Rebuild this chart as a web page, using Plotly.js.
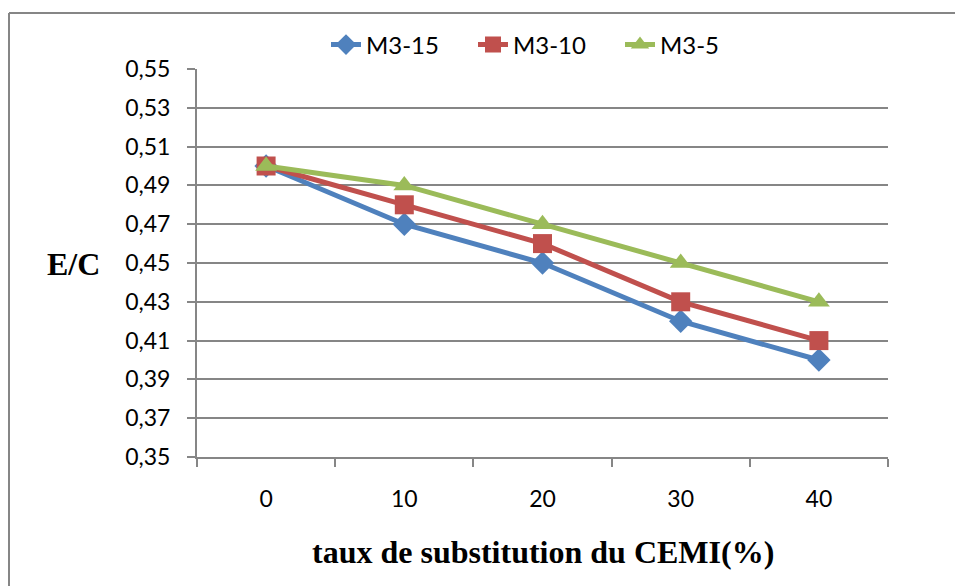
<!DOCTYPE html>
<html>
<head>
<meta charset="utf-8">
<script src="https://cdn.plot.ly/plotly-3.0.1.min.js"></script>
<style>html,body{margin:0;padding:0;background:#fff;}#chart{width:955px;height:586px;}</style>
</head>
<body>
<div id="chart"></div>
<script>
const categories = ["0", "10", "20", "30", "40"];
const seriesNames = ["M3-15", "M3-10", "M3-5"];
const m3_15 = [0.50, 0.47, 0.45, 0.42, 0.40];
const m3_10 = [0.50, 0.48, 0.46, 0.43, 0.41];
const m3_5  = [0.50, 0.49, 0.47, 0.45, 0.43];
const yTicks = [0.35, 0.37, 0.39, 0.41, 0.43, 0.45, 0.47, 0.49, 0.51, 0.53, 0.55];

const colors = ["#4F81BD", "#C0504D", "#9BBB59"];
const symbols = ["diamond", "square", "triangle-up"];
const sizes = [18, 19, 19];
const values = [m3_15, m3_10, m3_5];

const traces = values.map((v, i) => ({
  x: categories, y: v, name: seriesNames[i], type: "scatter", mode: "lines+markers",
  line: {color: colors[i], width: 5},
  marker: {symbol: symbols[i], size: sizes[i], color: colors[i]}
}));

const grid = "#868686";
const tickFont = {family: "Lato, 'Open Sans', sans-serif", size: 23, color: "#000"};
const layout = {
  width: 955, height: 586,
  margin: {l: 197, r: 67, t: 69, b: 129},
  paper_bgcolor: "#fff", plot_bgcolor: "#fff",
  separators: ", ",
  showlegend: true,
  legend: {orientation: "h", x: (326 - 197) / 691, xanchor: "left", y: 1.062, yanchor: "middle",
    font: {family: "Lato, 'Open Sans', sans-serif", size: 24, color: "#000"}, entrywidth: 102, entrywidthmode: "pixels"},
  xaxis: {type: "category", range: [-0.5, 4.5], showgrid: false, zeroline: false,
    showline: true, linecolor: grid, linewidth: 2, ticks: "outside", ticklen: 8, tickcolor: grid, tickwidth: 2,
    tickson: "boundaries", ticklabelstandoff: 20, tickfont: tickFont},
  yaxis: {range: [0.35, 0.55], tickvals: yTicks, tickformat: ".2f", showgrid: true, gridcolor: grid, gridwidth: 2,
    zeroline: false, showline: true, linecolor: grid, linewidth: 2, ticks: "outside", ticklen: 8, tickcolor: grid, tickwidth: 2,
    ticklabelstandoff: 12, tickfont: tickFont},
  annotations: [
    {text: "<b>E/C</b>", xref: "paper", yref: "paper", x: (73 - 197) / 691, y: (457 - 264) / 388,
      xanchor: "center", yanchor: "middle", showarrow: false,
      font: {family: "'Liberation Serif', 'Times New Roman', serif", size: 32, color: "#000"}},
    {text: "<b>taux de substitution du CEMI(%)</b>", xref: "paper", yref: "paper", x: (543 - 197) / 691, y: (457 - 552) / 388,
      xanchor: "center", yanchor: "middle", showarrow: false,
      font: {family: "'Liberation Serif', 'Times New Roman', serif", size: 32, color: "#000"}}
  ],
  shapes: [
    {type: "line", xref: "paper", yref: "paper", x0: (9 - 197) / 691, x1: (960 - 197) / 691,
      y0: (457 - 13) / 388, y1: (457 - 13) / 388, line: {color: grid, width: 2}},
    {type: "line", xref: "paper", yref: "paper", x0: (9 - 197) / 691, x1: (9 - 197) / 691,
      y0: (457 - 13) / 388, y1: (457 - 600) / 388, line: {color: grid, width: 2}}
  ]
};

Plotly.newPlot("chart", traces, layout, {displayModeBar: false, staticPlot: true});
</script>
</body>
</html>
